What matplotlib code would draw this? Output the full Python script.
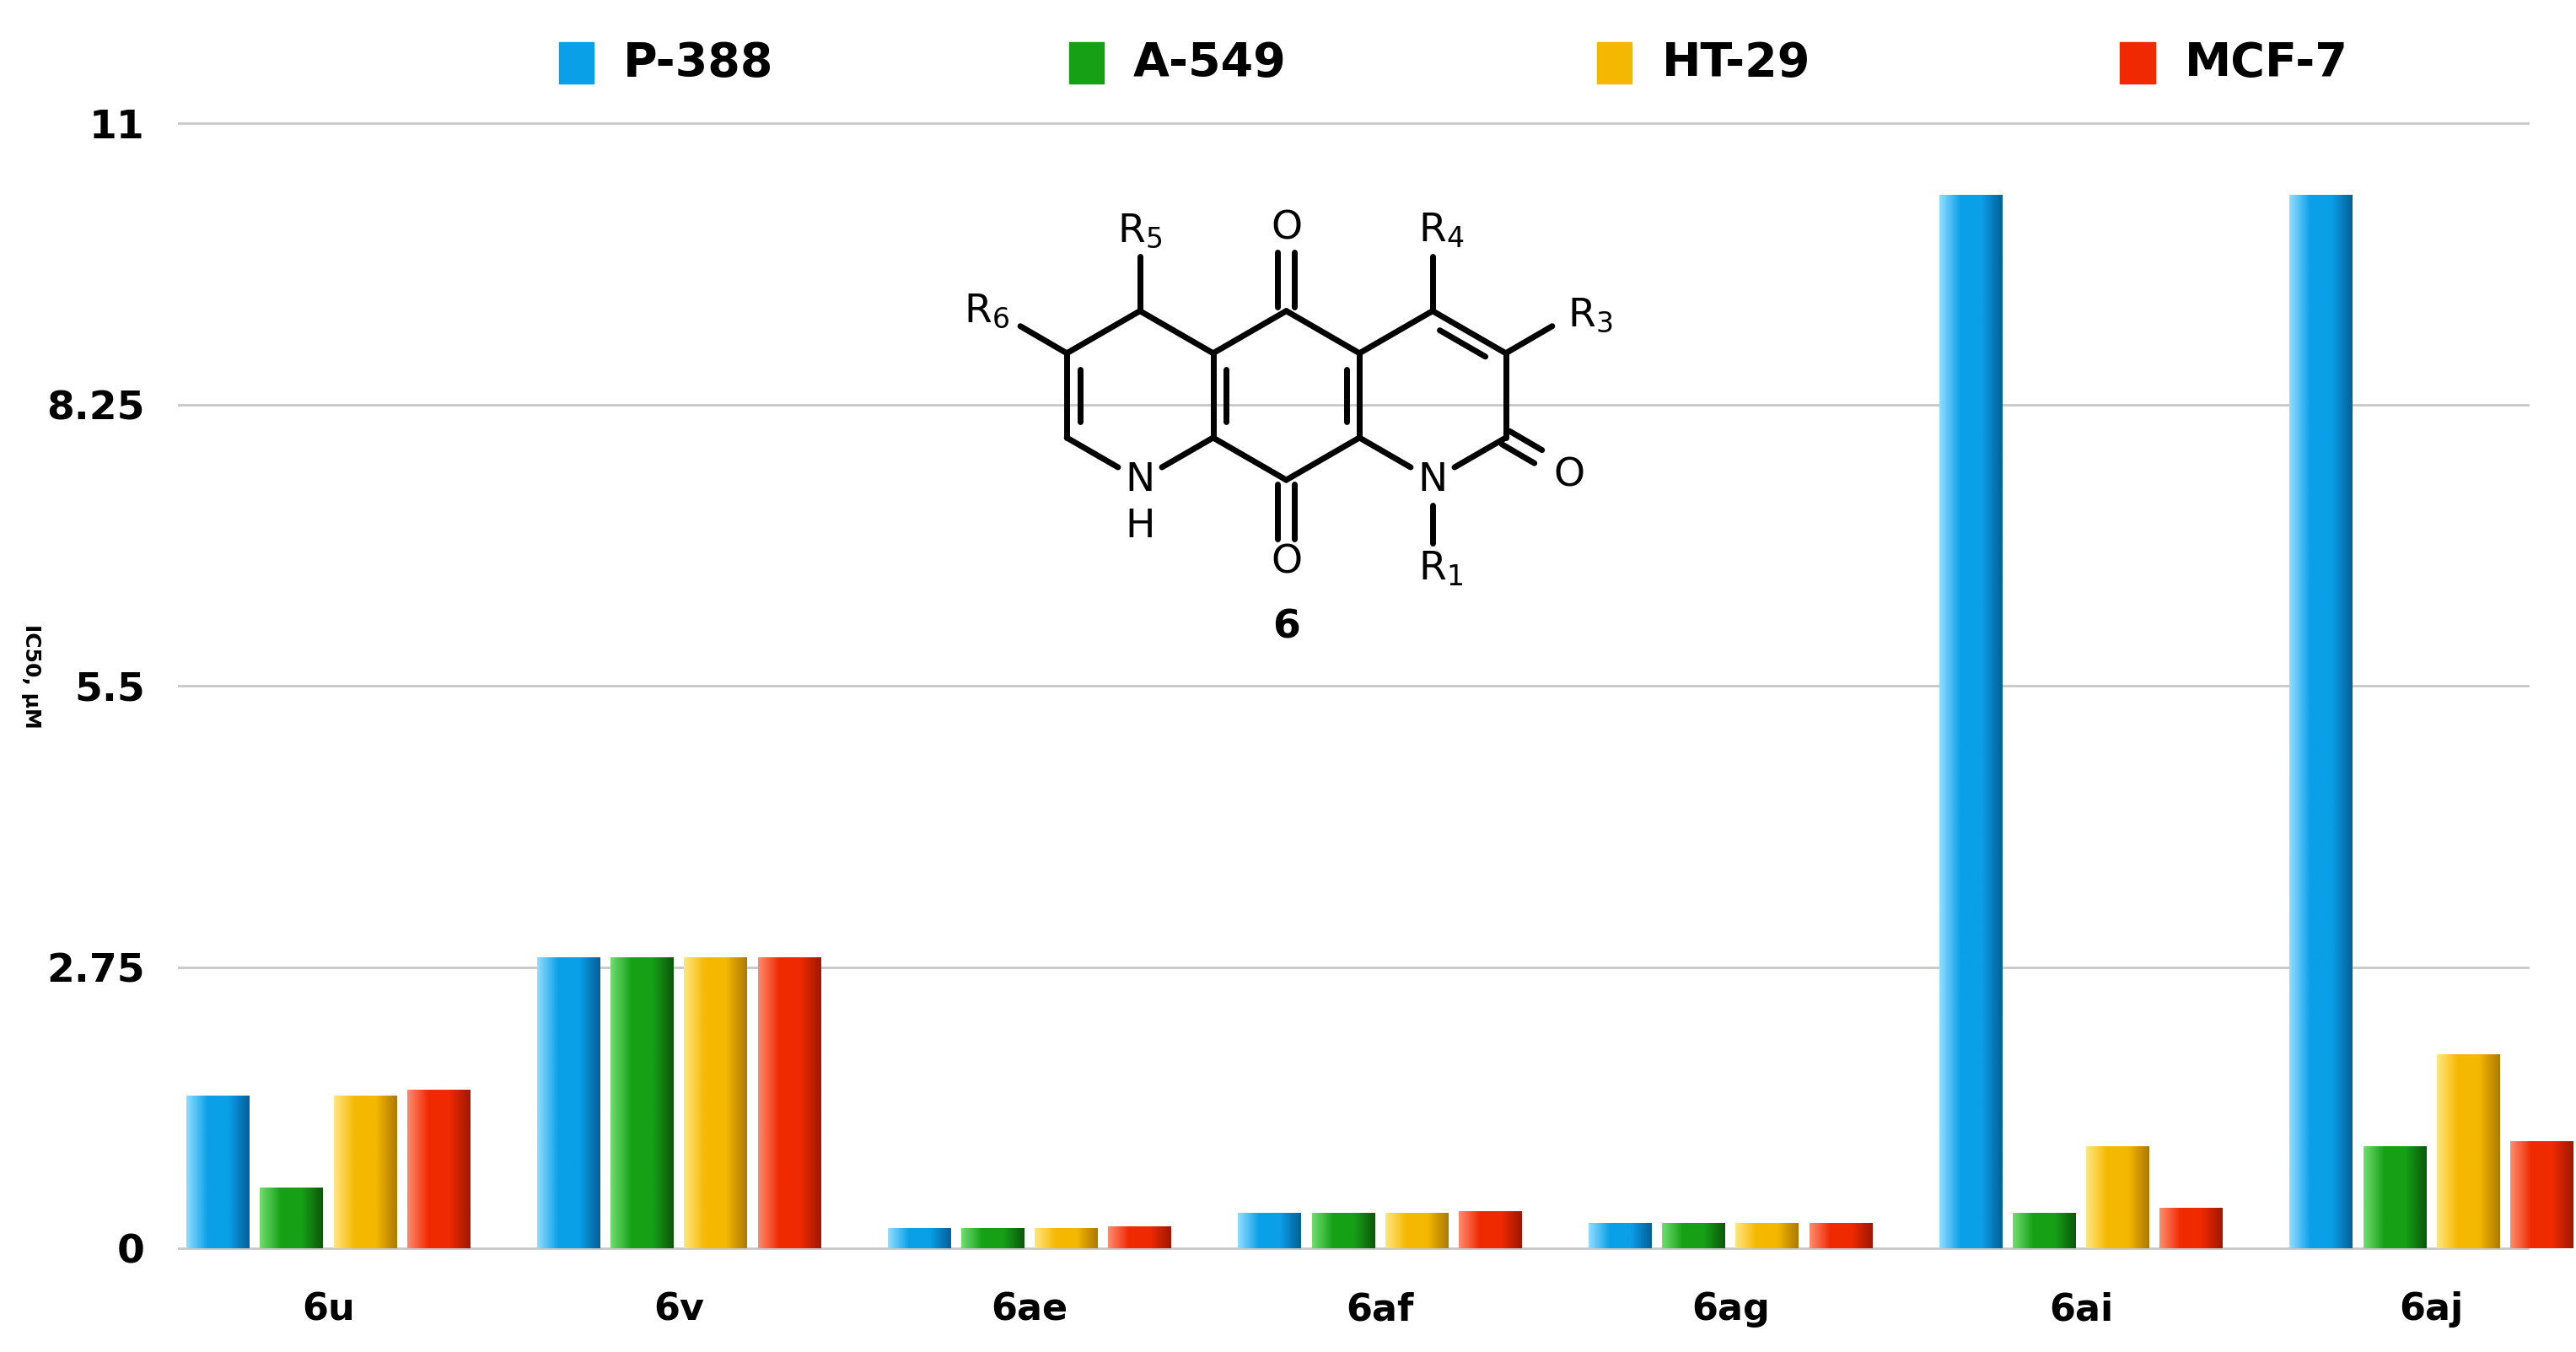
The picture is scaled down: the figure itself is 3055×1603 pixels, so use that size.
import matplotlib
matplotlib.use("Agg")
import matplotlib.pyplot as plt
import numpy as np
from matplotlib.colors import LinearSegmentedColormap

groups = ["6u", "6v", "6ae", "6af", "6ag", "6ai", "6aj"]
series = ["P-388", "A-549", "HT-29", "MCF-7"]
p388 = [1.5, 2.85, 0.2, 0.35, 0.25, 10.3, 10.3]
a549 = [0.6, 2.85, 0.2, 0.35, 0.25, 0.35, 1.0]
ht29 = [1.5, 2.85, 0.2, 0.35, 0.25, 1.0, 1.9]
mcf7 = [1.55, 2.85, 0.22, 0.37, 0.25, 0.4, 1.05]
yticks = [0, 2.75, 5.5, 8.25, 11]
ytick_labels = ["0", "2.75", "5.5", "8.25", "11"]

colors = [("#8fdcff", "#0aa0e8", "#04609a"),
          ("#6fdc6f", "#16a016", "#0a5a0a"),
          ("#ffe680", "#f5b800", "#b07a00"),
          ("#ff8a70", "#f02a00", "#a01800")]

fig = plt.figure(figsize=(30.55, 16.03), dpi=100)
ax = fig.add_axes([0.069, 0.028, 0.913, 0.902])
ax.set_xlim(-0.43, 6.28)
ax.set_ylim(-0.64, 11.28)
for s in ax.spines.values():
    s.set_visible(False)
ax.set_yticks(yticks)
ax.set_yticklabels(ytick_labels, fontsize=34, fontweight="bold")
ax.tick_params(axis="y", length=0, pad=28)
ax.set_xticks([])
for t in yticks:
    ax.axhline(t, color="#c8c8c8", lw=2, zorder=0)

vals = [p388, a549, ht29, mcf7]
pitch, w = 0.21, 0.18
grad = np.linspace(0, 1, 64).reshape(1, -1)
for si, v in enumerate(vals):
    cmap = LinearSegmentedColormap.from_list("c%d" % si, [colors[si][0], colors[si][1], colors[si][1], colors[si][2]])
    for gi, h in enumerate(v):
        x = gi + (si - 1.5) * pitch
        b = ax.bar(x, h, width=w, bottom=0, color=colors[si][1], zorder=2)[0]
        im = ax.imshow(grad, cmap=cmap, aspect="auto", extent=(x - w / 2, x + w / 2, 0, h), zorder=3)
        im.set_clip_path(b)
for gi, g in enumerate(groups):
    ax.text(gi, -0.42, g, ha="center", va="top", fontsize=32, fontweight="bold")

fig.text(0.012, 0.5, "IC50, μM", rotation=-90, ha="center", va="center", fontsize=18, fontweight="bold")

lx = [0.217, 0.415, 0.620, 0.823]
for i, s in enumerate(series):
    fig.patches.append(plt.Rectangle((lx[i], 0.938), 0.0135, 0.031, transform=fig.transFigure, color=colors[i][1]))
    fig.text(lx[i] + 0.025, 0.953, s, fontsize=40, fontweight="bold", va="center")

# chemical structure
sa = fig.add_axes([0.33, 0.52, 0.33, 0.35])
sa.set_xlim(-2.6, 5.8); sa.set_ylim(-3.0, 2.6)
sa.set_aspect("equal"); sa.axis("off")
r3 = np.sqrt(3)
def hexv(cx):
    return {"t": (cx, 1), "ur": (cx + r3 / 2, 0.5), "lr": (cx + r3 / 2, -0.5),
            "b": (cx, -1), "ll": (cx - r3 / 2, -0.5), "ul": (cx - r3 / 2, 0.5)}
L, M, R = hexv(0), hexv(r3), hexv(2 * r3)
lw = 5
def bond(p, q):
    sa.plot([p[0], q[0]], [p[1], q[1]], color="k", lw=lw, solid_capstyle="round")
def inner(p, q, c, f=0.18):
    p2 = (p[0] + (c[0] - p[0]) * f, p[1] + (c[1] - p[1]) * f)
    q2 = (q[0] + (c[0] - q[0]) * f, q[1] + (c[1] - q[1]) * f)
    d = (q2[0] - p2[0], q2[1] - p2[1])
    p3 = (p2[0] + d[0] * 0.12, p2[1] + d[1] * 0.12); q3 = (q2[0] - d[0] * 0.12, q2[1] - d[1] * 0.12)
    bond(p3, q3)
gap = 0.3
def short(p, q, a=0.0, b=0.0):
    d = np.array(q) - np.array(p); n = np.linalg.norm(d); u = d / n
    return tuple(np.array(p) + u * a), tuple(np.array(q) - u * b)
# left ring
bond(L["t"], L["ur"]); bond(L["t"], L["ul"]); bond(L["ul"], L["ll"])
bond(*short(L["ll"], L["b"], 0, gap)); bond(*short(L["b"], L["lr"], gap, 0))
inner(L["ul"], L["ll"], (0, 0))
# middle ring
bond(M["ul"], M["t"]); bond(M["t"], M["ur"]); bond(M["ur"], M["lr"]); bond(M["lr"], M["b"]); bond(M["b"], M["ll"]); bond(M["ll"], M["ul"])
inner(M["ul"], M["ll"], (r3, 0)); inner(M["ur"], M["lr"], (r3, 0))
# right ring
bond(R["ul"], R["t"]); bond(R["t"], R["ur"]); bond(R["ur"], R["lr"])
bond(*short(R["lr"], R["b"], 0, gap)); bond(*short(R["b"], R["ll"], gap, 0))
inner(R["t"], R["ur"], (2 * r3, 0))
# substituents
off = 0.1
bond((r3 - off, 1.05), (r3 - off, 1.7)); bond((r3 + off, 1.05), (r3 + off, 1.7))
bond((r3 - off, -1.05), (r3 - off, -1.7)); bond((r3 + off, -1.05), (r3 + off, -1.7))
bond(L["t"], (0, 1.65))
bond(L["ul"], (-r3 / 2 - 0.55, 0.82))
bond(R["t"], (2 * r3, 1.65))
bond(R["ur"], (2 * r3 + r3 / 2 + 0.55, 0.82))
co = np.array([2 * r3 + r3 / 2 + 0.6, -0.85]); pr = np.array(R["lr"]); u = (co - pr); u = u / np.linalg.norm(u); nrm = np.array([-u[1], u[0]]) * 0.09
bond(tuple(pr + nrm), tuple(co + nrm - u * 0.25)); bond(tuple(pr - nrm), tuple(co - nrm - u * 0.25))
bond((2 * r3, -1.3), (2 * r3, -1.75))
fs = 34
sa.text(r3, 1.98, "O", ha="center", va="center", fontsize=fs)
sa.text(r3, -1.98, "O", ha="center", va="center", fontsize=fs)
sa.text(0, 1.95, "R$_5$", ha="center", va="center", fontsize=fs)
sa.text(-r3 / 2 - 0.95, 1.0, "R$_6$", ha="center", va="center", fontsize=fs)
sa.text(2 * r3 + 0.1, 1.95, "R$_4$", ha="center", va="center", fontsize=fs)
sa.text(2 * r3 + r3 / 2 + 1.0, 0.95, "R$_3$", ha="center", va="center", fontsize=fs)
sa.text(co[0] + 0.15, co[1] - 0.1, "O", ha="center", va="center", fontsize=fs)
sa.text(2 * r3, -1.0, "N", ha="center", va="center", fontsize=fs)
sa.text(2 * r3 + 0.1, -2.05, "R$_1$", ha="center", va="center", fontsize=fs)
sa.text(0, -1.0, "N", ha="center", va="center", fontsize=fs)
sa.text(0, -1.55, "H", ha="center", va="center", fontsize=fs)
sa.text(r3, -2.75, "6", ha="center", va="center", fontsize=fs, fontweight="bold")

fig.savefig("out.png", dpi=100)
